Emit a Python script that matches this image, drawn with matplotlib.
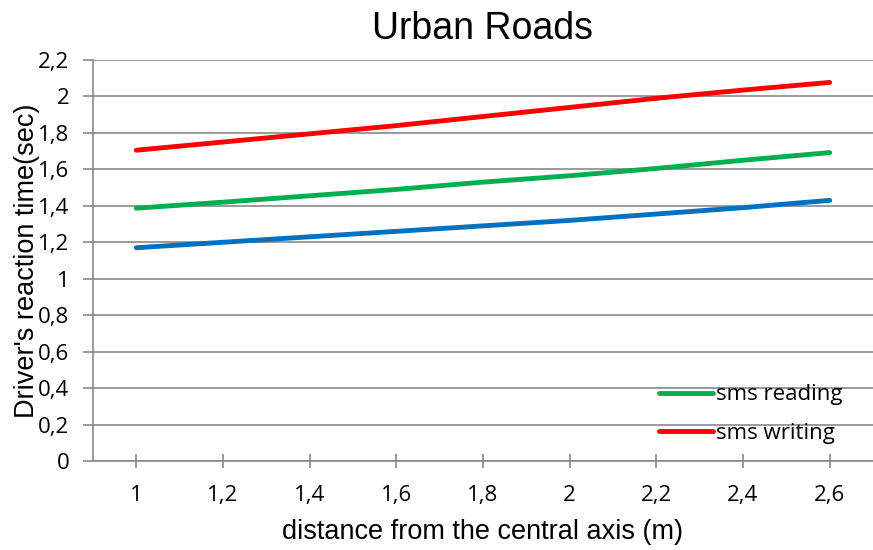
import matplotlib
matplotlib.use('Agg')
import matplotlib.pyplot as plt
from matplotlib.ticker import FuncFormatter

# data
distances = ['1', '1,2', '1,4', '1,6', '1,8', '2', '2,2', '2,4', '2,6']
no_sms = [1.17, 1.20, 1.23, 1.26, 1.29, 1.32, 1.355, 1.39, 1.43]
sms_reading = [1.387, 1.42, 1.455, 1.49, 1.53, 1.565, 1.605, 1.65, 1.692]
sms_writing = [1.705, 1.75, 1.795, 1.84, 1.89, 1.94, 1.99, 2.035, 2.077]
y_ticks = [0, 0.2, 0.4, 0.6, 0.8, 1.0, 1.2, 1.4, 1.6, 1.8, 2.0, 2.2]

grid_col = '#898989'
tick_font = 'Open Sans'
label_font = 'Liberation Sans'

fig = plt.figure(figsize=(8.73, 5.5), dpi=100)
ax = fig.add_axes([0.1065, 0.1618, 0.8935, 0.7291])

x = list(range(len(distances)))
ax.plot(x, no_sms, color='#0070C0', lw=3.5, solid_capstyle='round')
ax.plot(x, sms_reading, color='#00B050', lw=3.5, solid_capstyle='round', label='sms reading')
ax.plot(x, sms_writing, color='#FF0000', lw=3.5, solid_capstyle='round', label='sms writing')

ax.set_xlim(-0.5, len(distances) - 0.5)
ax.set_ylim(0, 2.2)
ax.set_yticks(y_ticks)
ax.yaxis.set_major_formatter(FuncFormatter(lambda v, p: ('%g' % round(v, 1)).replace('.', ',')))
ax.set_xticks(x)
ax.set_xticklabels(distances)

ax.grid(axis='y', color=grid_col, lw=1.2)
ax.set_axisbelow(True)
for s in ['top', 'right']:
    ax.spines[s].set_visible(False)
for s in ['left', 'bottom']:
    ax.spines[s].set_color(grid_col)
    ax.spines[s].set_linewidth(1.2)

ax.tick_params(axis='y', direction='out', length=7, width=1.2, color=grid_col, pad=10)
ax.tick_params(axis='x', direction='inout', length=10, width=1.2, color=grid_col, pad=12)
for lab in ax.get_xticklabels() + ax.get_yticklabels():
    lab.set_fontfamily(tick_font)
    lab.set_fontsize(16)

ax.set_title('Urban Roads', fontfamily=label_font, fontsize=27, pad=15)
ax.set_xlabel('distance from the central axis (m)', fontfamily=label_font, fontsize=19.5)
ax.xaxis.set_label_coords(0.5, -0.145)
ax.set_ylabel("Driver's reaction time(sec)", fontfamily=label_font, fontsize=19.5)
ax.yaxis.set_label_coords(-0.068, 0.5)

leg = ax.legend(loc='lower right', bbox_to_anchor=(0.972, 0.02), frameon=False,
                prop={'family': tick_font, 'size': 16}, handlelength=2.45,
                handletextpad=0.12, labelspacing=0.8, borderaxespad=0)

fig.savefig('out.png', dpi=100)
